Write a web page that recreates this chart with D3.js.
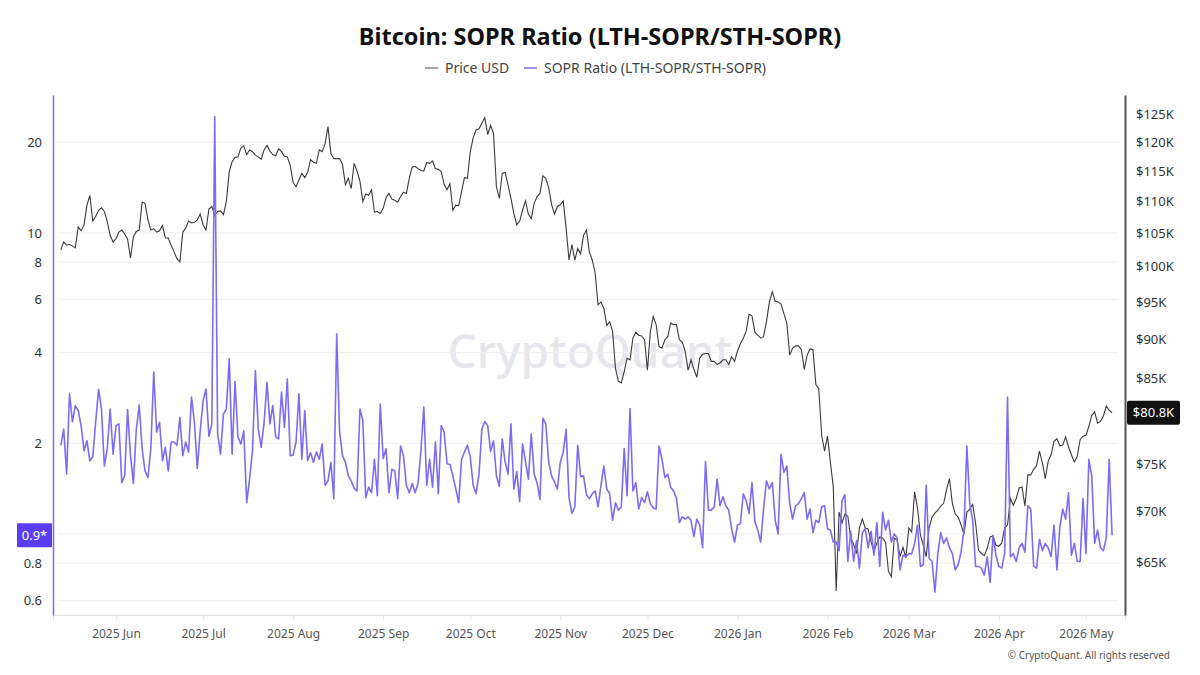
<!DOCTYPE html>
<html><head><meta charset="utf-8">
<script src="https://cdn.jsdelivr.net/npm/d3@7/dist/d3.min.js"></script>
<style>body{margin:0;background:#fff;} svg{display:block;font-family:"Noto Sans",sans-serif;}</style>
</head><body><svg id="c" width="1200" height="675"></svg>
<script>
const startDate = "2025-05-13";
const priceK = [
102.5,103.7,103.2,103.3,103.1,102.8,106.0,105.4,106.3,109.4,111.0,106.9,107.6,108.6,109.0,108.4,106.8,104.7,103.7,104.2,
105.2,105.5,104.9,104.1,101.3,104.5,105.3,105.5,109.9,109.7,107.1,105.5,105.7,105.2,105.4,106.2,104.3,104.3,103.2,102.2,
101.2,100.7,105.2,105.8,106.9,106.6,106.7,107.1,108.0,106.3,105.5,108.8,109.2,107.8,108.4,108.5,107.9,110.0,114.9,
116.6,117.3,117.4,118.9,119.3,117.8,118.6,118.3,117.7,117.4,117.0,118.6,119.4,118.4,117.8,117.6,118.8,118.3,117.5,117.4,
115.9,113.1,112.4,113.5,114.6,113.9,114.8,116.9,116.5,116.3,118.6,118.3,119.7,122.7,118.0,117.1,117.1,117.1,116.1,112.7,
113.8,112.1,116.3,115.0,113.3,110.0,111.2,111.0,111.9,108.3,108.4,108.1,108.9,110.6,111.3,110.4,110.2,109.9,110.8,111.5,
111.3,113.8,
115.7,115.8,115.4,115.1,115.0,116.4,116.3,116.7,115.4,115.3,114.9,112.8,111.9,112.9,108.6,109.4,109.3,111.6,113.9,113.8,
118.3,120.7,122.1,122.3,123.3,124.3,121.3,122.9,121.5,112.4,110.5,114.6,114.8,112.7,110.5,108.1,106.3,106.9,108.6,110.1,
108.0,107.3,109.7,110.8,111.3,114.2,113.8,112.2,109.5,108.0,109.2,109.5,110.1,105.8,101.0,103.3,101.0,102.7,101.9,104.7,
105.5,
102.2,101.0,99.1,94.6,95.0,94.1,91.8,92.3,91.0,86.2,84.6,84.4,85.8,87.5,87.3,90.1,90.9,90.5,90.4,89.9,
86.0,91.0,93.0,91.9,89.0,88.8,89.9,90.3,92.1,91.9,91.9,89.9,89.6,88.4,86.0,87.3,86.1,85.1,87.5,88.0,
88.1,88.1,87.1,87.1,86.7,86.9,87.3,87.3,86.7,87.7,87.1,88.4,89.4,90.1,91.0,93.3,93.1,90.9,90.5,90.1,
90.3,92.3,
95.0,96.4,95.1,95.0,94.7,93.4,92.1,87.9,88.8,89.1,89.1,88.6,86.1,87.9,88.7,88.6,84.2,83.7,78.2,76.4,
78.1,75.2,72.5,62.3,69.9,68.8,69.7,69.5,67.3,66.7,65.8,68.3,69.2,68.3,68.2,66.9,66.0,66.8,67.4,67.3,
66.9,64.1,63.6,67.3,67.1,65.5,66.4,65.4,68.3,67.9,72.0,70.3,67.6,66.6,65.5,68.3,69.4,69.8,70.1,70.5,
70.8,72.2,
73.4,70.8,69.7,69.4,68.6,67.7,69.9,70.2,70.7,68.8,66.1,65.8,65.6,66.3,67.4,67.5,66.6,66.5,66.8,68.3,
68.6,71.3,70.6,71.3,72.4,72.5,70.5,73.8,73.8,74.4,74.8,76.4,75.1,73.4,75.3,76.0,77.5,77.8,77.0,77.1,
78.0,76.9,76.0,75.2,75.8,77.7,78.1,78.2,79.2,80.5,80.9,79.6,79.8,80.4,81.6,81.1,80.8
];
const soprRatio = [
1.97,2.23,1.58,2.92,2.36,2.67,2.57,2.29,1.89,2.04,1.75,1.80,2.35,3.02,2.60,1.68,1.92,2.60,1.84,2.29,
2.32,1.48,1.56,2.59,1.82,1.47,2.23,2.68,1.92,1.62,1.54,1.92,3.45,2.18,2.35,1.75,1.94,1.62,2.02,2.02,
1.97,2.44,1.82,2.02,1.87,2.85,2.35,1.65,2.20,2.77,3.03,2.11,2.32,24.3,2.15,1.84,2.50,2.60,3.82,
1.84,3.21,2.10,1.99,2.20,1.27,1.52,1.89,3.49,2.23,1.94,2.35,3.19,2.32,2.67,2.10,2.07,2.96,2.26,3.27,
1.82,1.83,2.02,2.92,1.77,2.57,1.75,1.86,1.73,1.87,1.77,1.99,1.45,1.50,1.73,1.31,4.62,2.18,1.82,1.73,
1.56,1.50,1.42,1.39,2.60,2.38,1.32,1.43,1.37,1.77,1.34,2.70,1.78,1.92,1.37,1.64,1.62,1.31,1.96,1.82,
1.45,1.37,
1.47,1.37,1.47,1.89,2.64,1.45,1.77,1.43,2.02,1.36,2.29,2.18,1.71,1.70,1.56,1.41,1.27,1.77,1.87,1.97,
1.80,1.45,1.36,1.58,2.23,2.36,2.29,1.88,2.04,1.56,1.44,2.07,1.73,1.58,2.32,1.41,1.61,1.28,1.99,1.75,
1.52,2.15,1.58,1.48,1.30,2.42,2.32,1.73,1.56,1.49,1.41,1.73,1.87,2.23,1.32,1.17,1.23,1.97,1.55,1.56,
1.35,
1.31,1.36,1.39,1.23,1.45,1.68,1.41,1.36,1.11,1.27,1.20,1.23,1.92,1.34,2.61,1.39,1.48,1.21,1.32,1.27,
1.38,1.26,1.22,1.21,1.96,1.77,1.54,1.58,1.43,1.39,1.31,1.09,1.14,1.12,1.14,1.11,0.98,1.12,1.07,0.90,
1.74,1.20,1.20,1.23,1.52,1.24,1.33,1.24,1.20,1.04,0.94,1.07,1.08,1.36,1.29,1.17,1.48,1.10,1.03,0.94,
1.21,1.50,
1.41,1.48,1.11,1.00,1.84,1.60,1.68,1.26,1.12,1.24,1.26,1.31,1.37,1.12,1.21,1.01,1.11,1.09,1.23,1.24,
1.04,1.03,0.94,0.94,0.88,1.29,1.35,0.81,1.02,0.81,0.95,0.77,1.01,1.04,0.90,1.02,0.85,1.09,0.78,1.18,
1.03,1.11,0.94,1.00,0.97,0.76,0.85,0.84,0.86,0.86,0.93,1.07,0.78,0.79,1.45,0.83,0.81,0.64,0.86,1.01,
0.93,0.97,
0.90,0.86,0.76,0.79,0.87,1.03,1.96,1.26,1.11,0.78,0.78,0.77,0.73,0.84,0.69,0.99,0.85,0.78,0.77,0.86,
2.85,0.84,0.86,0.81,0.90,0.93,0.87,1.24,1.21,0.78,0.77,0.96,0.88,0.93,0.90,0.84,1.07,0.76,1.05,1.21,
1.12,1.37,0.85,0.93,0.81,0.81,1.31,0.86,1.77,1.56,0.93,1.03,0.90,0.88,0.97,1.77,0.99
];
const soprTicks = [0.6, 0.8, 1, 2, 4, 6, 8, 10, 20];
const priceTicks = [65, 70, 75, 80, 85, 90, 95, 100, 105, 110, 115, 120, 125];
const seriesNames = ["Price USD", "SOPR Ratio (LTH-SOPR/STH-SOPR)"];
const titleText = "Bitcoin: SOPR Ratio (LTH-SOPR/STH-SOPR)";
const lastPriceText = "$80.8K";
const lastSoprText = "0.9*";
const watermarkText = "CryptoQuant";
const copyrightText = "\u00A9 CryptoQuant. All rights reserved";

const priceColor = "#3b3b3b", soprColor = "#7b6cf6";
const svg = d3.select("#c");
const plot = {left: 53, right: 1125, top: 95, bottom: 615};
const DAY = 864e5;
const t0 = new Date(startDate + "T00:00:00Z");
const dates = priceK.map((_, i) => new Date(+t0 + i * DAY));
const jun1 = Date.UTC(2025, 5, 1);

const x = d3.scaleUtc().domain([new Date(jun1 - 21.69 * DAY), new Date(jun1 + 347.45 * DAY)]).range([plot.left, plot.right]);
const yL = d3.scaleLog().domain([0.538, 28.7]).range([plot.bottom, plot.top]);
const yR = d3.scaleLog().domain([60.15, 128.5]).range([plot.bottom, plot.top]);
const lastS = soprRatio[soprRatio.length - 1];
const lastP = priceK[priceK.length - 1];

svg.append("rect").attr("width", 1200).attr("height", 675).attr("fill", "#fff");

// title
svg.append("text").attr("x", 600).attr("y", 45).attr("text-anchor", "middle")
  .attr("font-size", 23.5).attr("font-weight", 700).attr("fill", "#111").text(titleText);

// legend
const leg = svg.append("g").attr("font-size", 14).attr("fill", "#444");
const legItems = [{x: 425, color: "#888", name: seriesNames[0]}, {x: 524, color: soprColor, name: seriesNames[1]}];
legItems.forEach(d => {
  leg.append("line").attr("x1", d.x).attr("x2", d.x + 13).attr("y1", 68).attr("y2", 68).attr("stroke", d.color).attr("stroke-width", 1.5);
  leg.append("text").attr("x", d.x + 20).attr("y", 73).text(d.name);
});

// watermark
svg.append("text").attr("x", 590).attr("y", 368).attr("text-anchor", "middle")
  .attr("font-size", 46).attr("font-weight", 500).attr("fill", "#e6e6ec").text(watermarkText);

// grid
svg.append("g").selectAll("line").data(soprTicks).join("line")
  .attr("x1", 58).attr("x2", 1118).attr("y1", d => yL(d)).attr("y2", d => yL(d))
  .attr("stroke", "#efeff2").attr("stroke-width", 1);

// bottom axis
const months = d3.utcMonth.range(new Date(Date.UTC(2025, 5, 1)), new Date(Date.UTC(2026, 5, 1)));
const xAxis = d3.axisBottom(x).tickValues(months).tickFormat(d3.utcFormat("%Y %b")).tickSize(5).tickPadding(9);
const gx = svg.append("g").attr("transform", `translate(0,${plot.bottom})`).call(xAxis);
gx.select(".domain").attr("stroke", "#e2e2ea");
gx.selectAll(".tick line").attr("stroke", "#e2e2ea");
gx.selectAll(".tick text").attr("fill", "#555").attr("font-size", 12).attr("font-family", "Noto Sans, sans-serif");

// left axis (label of the tick under the current-value badge is covered, as in the source)
const gl = svg.append("g").attr("transform", `translate(${plot.left},0)`)
  .call(d3.axisLeft(yL).tickValues(soprTicks).tickFormat(d => d === 1 ? "" : String(d)).tickSize(0).tickPadding(11));
gl.select(".domain").attr("stroke", soprColor).attr("stroke-width", 1.5);
gl.selectAll(".tick text").attr("fill", "#333").attr("font-size", 13).attr("font-family", "Noto Sans, sans-serif");

// right axis
const gr = svg.append("g").attr("transform", `translate(${plot.right},0)`)
  .call(d3.axisRight(yR).tickValues(priceTicks).tickFormat(d => d === 80 ? "" : "$" + d + "K").tickSize(0).tickPadding(11));
gr.select(".domain").attr("stroke", "#555").attr("stroke-width", 2);
gr.selectAll(".tick text").attr("fill", "#333").attr("font-size", 13).attr("font-family", "Noto Sans, sans-serif");

// lines
const priceLine = d3.line().x((d, i) => x(dates[i])).y(d => yR(d));
const soprLine = d3.line().x((d, i) => x(dates[i])).y(d => yL(d));
svg.append("path").datum(priceK).attr("d", priceLine).attr("fill", "none").attr("stroke", priceColor).attr("stroke-width", 1.1);
svg.append("path").datum(soprRatio).attr("d", soprLine).attr("fill", "none").attr("stroke", soprColor).attr("stroke-width", 1.6).attr("stroke-linejoin", "round");

// last value badges
const lp = yR(lastP);
svg.append("rect").attr("x", plot.right + 2).attr("y", lp - 12).attr("width", 53).attr("height", 24).attr("rx", 2).attr("fill", "#111");
svg.append("text").attr("x", plot.right + 28.5).attr("y", lp + 4.5).attr("text-anchor", "middle").attr("fill", "#fff").attr("font-size", 13).text(lastPriceText);
const ls = yL(lastS);
svg.append("rect").attr("x", 17).attr("y", ls - 12).attr("width", 35).attr("height", 24).attr("rx", 1).attr("fill", "#5b3df5");
svg.append("text").attr("x", 34.5).attr("y", ls + 4.5).attr("text-anchor", "middle").attr("fill", "#fff").attr("font-size", 13).text(lastSoprText);

// copyright
svg.append("text").attr("x", 1170).attr("y", 659).attr("text-anchor", "end").attr("font-size", 10).attr("fill", "#555").text(copyrightText);
</script></body></html>
